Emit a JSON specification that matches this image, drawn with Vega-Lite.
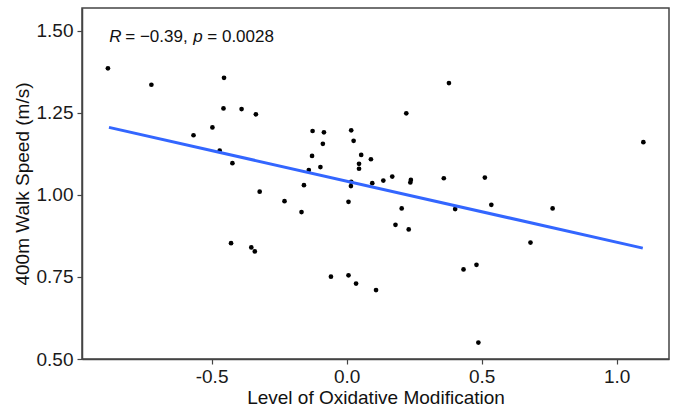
{
  "$schema": "https://vega.github.io/schema/vega-lite/v6.json",
  "width": 587,
  "height": 351,
  "autosize": {"type": "none"},
  "padding": {"left": 82, "top": 8, "right": 8, "bottom": 56},
  "background": "white",
  "config": {
    "font": "Liberation Sans",
    "view": {"stroke": "#444", "strokeWidth": 1.5}
  },
  "datasets": {
    "pts": [
      {"x": -0.884, "y": 1.386}, {"x": -0.723, "y": 1.336}, {"x": -0.454, "y": 1.357}, {"x": -0.456, "y": 1.264},
      {"x": -0.389, "y": 1.262}, {"x": -0.336, "y": 1.246}, {"x": -0.567, "y": 1.182}, {"x": -0.497, "y": 1.206},
      {"x": -0.470, "y": 1.135}, {"x": -0.423, "y": 1.097}, {"x": -0.126, "y": 1.195}, {"x": -0.084, "y": 1.191},
      {"x": -0.088, "y": 1.156}, {"x": -0.128, "y": 1.119}, {"x": -0.097, "y": 1.085}, {"x": -0.140, "y": 1.076},
      {"x": -0.158, "y": 1.030}, {"x": 0.017, "y": 1.197}, {"x": 0.026, "y": 1.165}, {"x": 0.054, "y": 1.122},
      {"x": 0.046, "y": 1.095}, {"x": 0.046, "y": 1.080}, {"x": 0.090, "y": 1.109}, {"x": 0.016, "y": 1.027},
      {"x": 0.017, "y": 1.040}, {"x": 0.095, "y": 1.036}, {"x": 0.379, "y": 1.341}, {"x": 0.221, "y": 1.249},
      {"x": 1.099, "y": 1.161}, {"x": 0.136, "y": 1.044}, {"x": 0.169, "y": 1.056}, {"x": 0.238, "y": 1.046},
      {"x": 0.236, "y": 1.038}, {"x": 0.360, "y": 1.051}, {"x": 0.512, "y": 1.053}, {"x": -0.322, "y": 1.010},
      {"x": -0.230, "y": 0.981}, {"x": -0.167, "y": 0.948}, {"x": 0.007, "y": 0.979}, {"x": -0.428, "y": 0.853},
      {"x": -0.353, "y": 0.840}, {"x": -0.340, "y": 0.828}, {"x": -0.058, "y": 0.751}, {"x": 0.007, "y": 0.755},
      {"x": 0.035, "y": 0.730}, {"x": 0.109, "y": 0.710}, {"x": 0.204, "y": 0.959}, {"x": 0.181, "y": 0.909},
      {"x": 0.230, "y": 0.895}, {"x": 0.402, "y": 0.957}, {"x": 0.536, "y": 0.970}, {"x": 0.763, "y": 0.959},
      {"x": 0.681, "y": 0.855}, {"x": 0.433, "y": 0.773}, {"x": 0.481, "y": 0.787}, {"x": 0.488, "y": 0.550}
    ],
    "fit": [{"x": -0.880, "y": 1.206}, {"x": 1.097, "y": 0.838}]
  },
  "layer": [
    {
      "data": {"name": "pts"},
      "mark": {"type": "circle", "color": "black", "opacity": 1, "size": 22},
      "encoding": {
        "x": {"field": "x", "type": "quantitative", "scale": {"domain": [-0.98, 1.194], "nice": false, "zero": false},
          "axis": {"values": [-0.5, 0, 0.5, 1], "title": "Level of Oxidative Modification", "titlePadding": 2,
            "grid": false, "domainColor": "#444", "domainWidth": 1.5, "tickColor": "#444", "tickSize": 5, "tickWidth": 1.2,
            "labelColor": "#1a1a1a", "labelFontSize": 19, "labelPadding": 3, "titleFontSize": 19, "titleColor": "#111", "titleFontWeight": "normal",
            "labelExpr": "datum.value < 0 ? '-' + format(-datum.value, '.1f') : format(datum.value, '.1f')"}},
        "y": {"field": "y", "type": "quantitative", "scale": {"domain": [0.5, 1.57], "nice": false, "zero": false},
          "axis": {"values": [0.5, 0.75, 1, 1.25, 1.5], "format": ".2f", "title": "400m Walk Speed (m/s)", "titlePadding": 4,
            "grid": false, "domainColor": "#444", "domainWidth": 1.5, "tickColor": "#444", "tickSize": 5, "tickWidth": 1.2,
            "labelColor": "#1a1a1a", "labelFontSize": 19, "labelPadding": 4, "titleFontSize": 19, "titleColor": "#111", "titleFontWeight": "normal"}}
      }
    },
    {
      "data": {"name": "fit"},
      "mark": {"type": "line", "color": "#3366FF", "strokeWidth": 3},
      "encoding": {
        "x": {"field": "x", "type": "quantitative"},
        "y": {"field": "y", "type": "quantitative"}
      }
    },
    {
      "data": {"values": [{"t": "R"}]},
      "mark": {"type": "text", "fontStyle": "italic", "fontSize": 17, "align": "left", "baseline": "alphabetic", "color": "#111"},
      "encoding": {"x": {"datum": -0.879}, "y": {"datum": 1.4665}, "text": {"field": "t"}}
    },
    {
      "data": {"values": [{"t": "= −0.39,"}]},
      "mark": {"type": "text", "fontSize": 17, "align": "left", "baseline": "alphabetic", "dx": 16, "color": "#111"},
      "encoding": {"x": {"datum": -0.879}, "y": {"datum": 1.4665}, "text": {"field": "t"}}
    },
    {
      "data": {"values": [{"t": "p"}]},
      "mark": {"type": "text", "fontStyle": "italic", "fontSize": 17, "align": "left", "baseline": "alphabetic", "dx": 84, "color": "#111"},
      "encoding": {"x": {"datum": -0.879}, "y": {"datum": 1.4665}, "text": {"field": "t"}}
    },
    {
      "data": {"values": [{"t": "= 0.0028"}]},
      "mark": {"type": "text", "fontSize": 17, "align": "left", "baseline": "alphabetic", "dx": 98, "color": "#111"},
      "encoding": {"x": {"datum": -0.879}, "y": {"datum": 1.4665}, "text": {"field": "t"}}
    }
  ]
}
